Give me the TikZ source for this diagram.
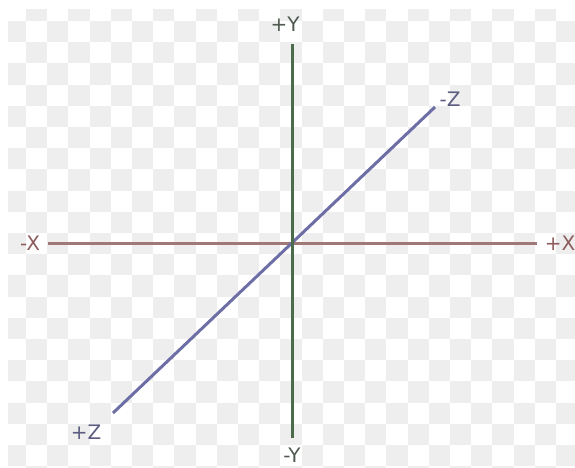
\documentclass[tikz,border=0pt]{standalone}
\usepackage{fontspec}
\setmainfont{DejaVu Sans}
\definecolor{chk}{HTML}{EEEEEE}
\definecolor{xcol}{HTML}{A07878}
\definecolor{ycol}{HTML}{4B6B4B}
\definecolor{zcol}{HTML}{6E6EA6}
\definecolor{xtxt}{HTML}{8E5E5E}
\definecolor{ytxt}{HTML}{505A50}
\definecolor{ztxt}{HTML}{5C5C80}
\begin{document}
\begin{tikzpicture}[x=1pt,y=-1pt,
  axisline/.style={line width=3pt},
  lbl/.style={inner sep=0pt,font=\fontsize{20}{23}\selectfont}]
\useasboundingbox (0,0) rectangle (575,468);
\fill[white] (0,0) rectangle (575,468);
\begin{scope}
\clip (8,10) rectangle (575,468);
\foreach \r in {-1,...,21}{
  \foreach \c in {-1,...,26}{
    \pgfmathtruncatemacro\s{\r+\c+10}
    \ifodd\s
      \fill[chk] ({26+21.2*\c},{21+21.2*\r}) rectangle +(21.2,21.2);
    \fi
  }
}
\end{scope}
\coordinate (ytop) at (292,44);
\coordinate (ybot) at (292,438);
\coordinate (xl) at (48,243);
\coordinate (xr) at (537,243);
\coordinate (zfar) at (435,107);
\coordinate (znear) at (113,413);
\draw[axisline,xcol] (xl) -- (xr);
\draw[axisline,zcol] (znear) -- (zfar);
\draw[axisline,ycol] (ytop) -- (ybot);
\node[lbl,text=ytxt] (py) at (285,24) {+Y};
\node[lbl,text=ytxt] (my) at (292,455) {-Y};
\node[lbl,text=xtxt] (mx) at (30,243) {-X};
\node[lbl,text=xtxt] (px) at (560,243) {+X};
\node[lbl,text=ztxt] (mz) at (450,99) {-Z};
\node[lbl,text=ztxt] (pz) at (86,432) {+Z};
\end{tikzpicture}
\end{document}
